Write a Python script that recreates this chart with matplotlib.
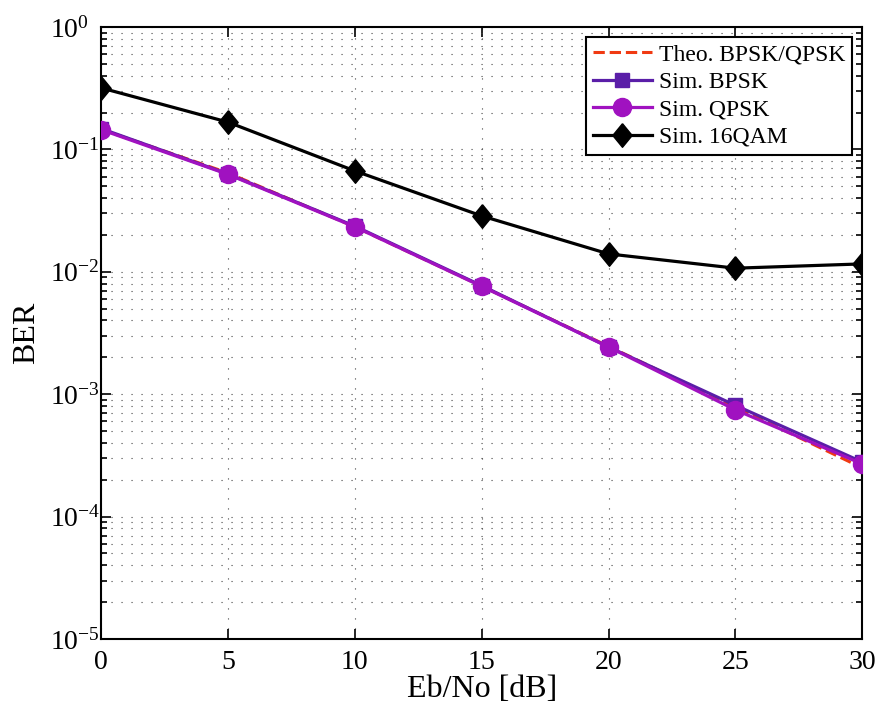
import numpy as np
import matplotlib
matplotlib.use("Agg")
import matplotlib.pyplot as plt

plt.rcParams['font.family'] = ['Liberation Serif', 'DejaVu Serif']
plt.rcParams['mathtext.fontset'] = 'stix'

# data
ebno = [0, 5, 10, 15, 20, 25, 30]
theo = [0.146, 0.0642, 0.0233, 0.00763, 0.00246, 0.000786, 0.000250]
sim_bpsk = [0.148, 0.063, 0.0236, 0.0077, 0.00243, 0.00081, 0.000279]
sim_qpsk = [0.145, 0.0625, 0.0233, 0.0076, 0.00243, 0.000745, 0.000269]
sim_16qam = [0.318, 0.167, 0.0667, 0.0286, 0.0140, 0.0107, 0.0116]

# matlab-like diamond, taller than wide
diamond = [(0, 1), (0.82, 0), (0, -1), (-0.82, 0), (0, 1)]

fig = plt.figure(figsize=(8.79, 7.10), dpi=100)
ax = fig.add_axes([0.115, 0.100, 0.866, 0.862])

ax.semilogy(ebno, theo, '--', color='#f03a12', lw=2.2, label='Theo. BPSK/QPSK', zorder=3)
ax.semilogy(ebno, sim_bpsk, '-s', color='#5a1ea8', lw=2.3, ms=10.5, label='Sim. BPSK', zorder=4)
ax.semilogy(ebno, sim_qpsk, '-o', color='#a012c0', lw=2.3, ms=13, label='Sim. QPSK', zorder=5)
ax.semilogy(ebno, sim_16qam, '-', marker=diamond, color='black', lw=2.3, ms=17,
            label='Sim. 16QAM', zorder=6)

ax.set_xlim(0, 30)
ax.set_ylim(1e-5, 1)
ax.set_xticks(ebno)
ax.grid(True, which='both', color='#444444', linestyle=(0, (1, 8)), lw=0.8)
ax.tick_params(which='both', direction='in', top=True, right=True, labelsize=20, width=1.2)
ax.tick_params(axis='x', pad=8)
ax.tick_params(axis='y', pad=37)
ax.tick_params(which='major', length=7)
ax.tick_params(which='minor', length=4)
# matlab puts the "10" at a fixed spot and lets the exponent hang over
for lab in ax.get_yticklabels():
    lab.set_horizontalalignment('left')
for s in ax.spines.values():
    s.set_linewidth(1.5)

ax.set_xlabel('Eb/No [dB]', fontsize=23, labelpad=0)
ax.set_ylabel('BER', fontsize=23, labelpad=6)

leg = ax.legend(loc='upper right', fontsize=17, fancybox=False, framealpha=1,
                edgecolor='black', handlelength=2.5, borderpad=0.3, labelspacing=0.25,
                handletextpad=0.3, borderaxespad=0.42)
leg.get_frame().set_linewidth(1.5)

fig.savefig('out.png', dpi=100)
